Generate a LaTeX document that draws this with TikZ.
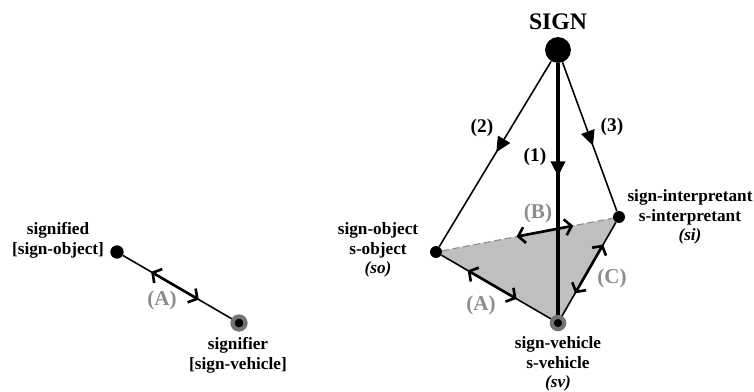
\documentclass[tikz,border=0pt]{standalone}
\usepackage{fontspec}
\setmainfont{Liberation Serif}
\usetikzlibrary{arrows.meta,decorations.markings,calc,backgrounds}

\begin{document}
\begin{tikzpicture}[x=0.02cm,y=-0.02cm,dot/.style={circle,fill=black,inner sep=0pt,minimum size=6.8pt},bigdot/.style={circle,fill=black,inner sep=0pt,minimum size=14.7pt},ringdot/.style={circle,fill=black,draw=black!55,line width=2.4pt,inner sep=0pt,minimum size=7pt},edge/.style={line width=0.9pt},thickedge/.style={line width=2pt},midarrow/.style={postaction={decorate},decoration={markings,mark=at position #1 with {\arrow{Triangle[length=3mm,width=2.8mm]}}}},twoway/.style={line width=1.5pt,{Straight Barb[length=1.3mm,width=3.2mm]}-{Straight Barb[length=1.3mm,width=3.2mm]}},term/.style={font=\fontsize{9.8}{11.3}\selectfont\bfseries,align=center},title/.style={font=\fontsize{13.5}{15}\selectfont\bfseries},num/.style={font=\fontsize{11}{12}\selectfont\bfseries},letter/.style={font=\fontsize{12}{13}\selectfont\bfseries,text=black!45}]
\useasboundingbox (0,0) rectangle (754,392);
\node[dot,minimum size=7.6pt] (signified) at (117,252) {};
\node[ringdot,minimum size=7.4pt] (signifier) at (239,323) {};
\node[term] (signifiedlbl) at (58,240) {signified\\{[}sign-object{]}};
\node[term] (signifierlbl) at (238,355) {signifier\\{[}sign-vehicle{]}};
\draw[edge] (signified) -- (signifier);
\draw[twoway] ($(signified)!0.28!(signifier)$) -- ($(signified)!0.67!(signifier)$);
\node[letter] (la) at (162,300) {(A)};
\node[bigdot] (sign) at (558,50) {};
\node[title] (signlbl) at (558,22) {SIGN};
\node[dot] (so) at (436,252) {};
\node[dot] (si) at (619,217) {};
\node[ringdot] (sv) at (558,323) {};
\begin{pgfonlayer}{background}
\fill[black!25] (so.center) -- (si.center) -- (sv.center) -- cycle;
\end{pgfonlayer}
\draw[black!45,line width=0.6pt,dash pattern=on 4pt off 2pt] (so) -- (si);
\draw[edge] (so) -- (sv);
\draw[edge] (sv) -- (si);
\draw[edge,midarrow=0.49] (sign) -- (so);
\draw[edge,midarrow=0.56] (sign) -- (si);
\draw[thickedge,midarrow=0.45] (sign) -- (sv);
\draw[twoway] ($(so)!0.26!(sv)$) -- ($(so)!0.66!(sv)$);
\draw[twoway] ($(so)!0.44!(si)$) -- ($(so)!0.75!(si)$);
\draw[twoway] ($(sv)!0.28!(si)$) -- ($(sv)!0.74!(si)$);
\node[num] (n2) at (482,128) {(2)};
\node[num] (n1) at (535,157) {(1)};
\node[num] (n3) at (612,127) {(3)};
\node[letter] (ra) at (481,305) {(A)};
\node[letter] (rb) at (538,213) {(B)};
\node[letter] (rc) at (612,278) {(C)};
\node[term] (solbl) at (378,250) {sign-object\\s-object\\\textit{(so)}};
\node[term] (silbl) at (690,217) {sign-interpretant\\s-interpretant\\\textit{(si)}};
\node[term] (svlbl) at (558,364) {sign-vehicle\\s-vehicle\\\textit{(sv)}};
\end{tikzpicture}
\end{document}
